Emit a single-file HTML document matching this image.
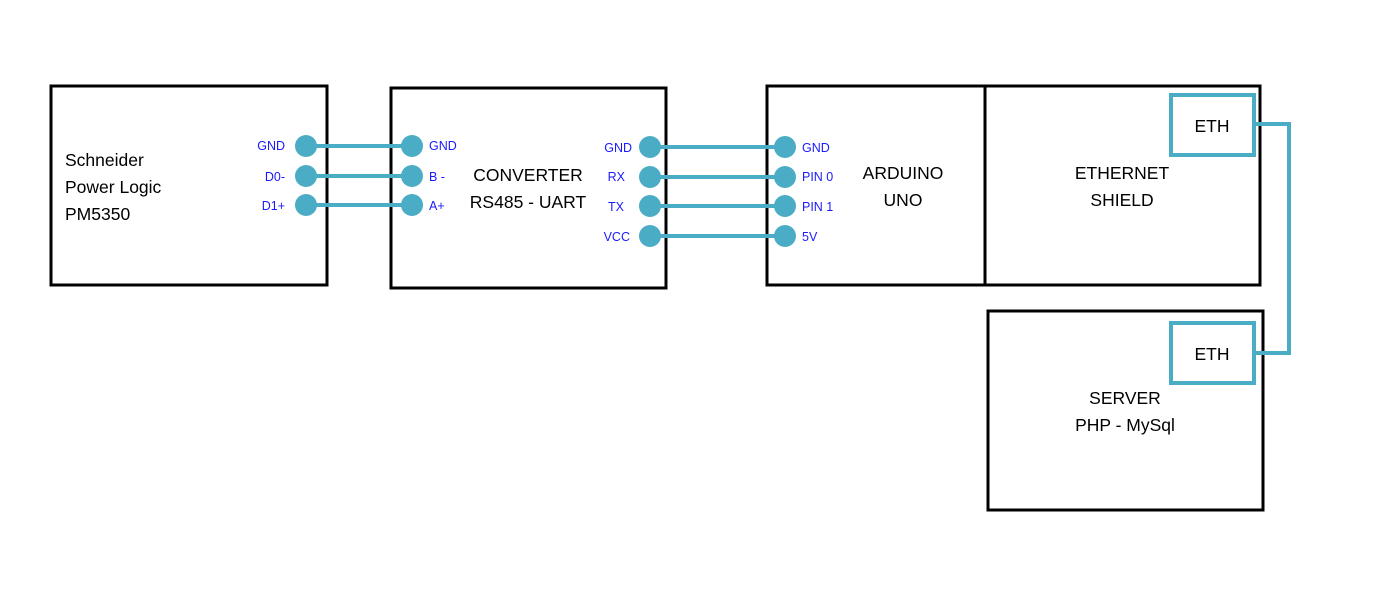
<!DOCTYPE html>
<html><head><meta charset="utf-8"><style>body{margin:0;background:#fff}svg{display:block}</style></head>
<body>
<svg width="1393" height="602" viewBox="0 0 1393 602" xmlns="http://www.w3.org/2000/svg" font-family="Liberation Sans, sans-serif">
<g fill="none" stroke="#000" stroke-width="3">
<rect x="51" y="86" width="276" height="199"/>
<rect x="391" y="88" width="275" height="200"/>
<rect x="767" y="86" width="218" height="199"/>
<rect x="985" y="86" width="275" height="199"/>
<rect x="988" y="311" width="275" height="199"/>
</g>
<g fill="none" stroke="#4BACC6" stroke-width="4">
<rect x="1171" y="95" width="83" height="60"/>
<rect x="1171" y="323" width="83" height="60"/>
<polyline points="1254,124 1289,124 1289,353 1254,353"/>
<line x1="306" y1="146" x2="412" y2="146"/>
<line x1="306" y1="176" x2="412" y2="176"/>
<line x1="306" y1="205" x2="412" y2="205"/>
<line x1="650" y1="147" x2="785" y2="147"/>
<line x1="650" y1="177" x2="785" y2="177"/>
<line x1="650" y1="206" x2="785" y2="206"/>
<line x1="650" y1="236" x2="785" y2="236"/>
</g>
<g fill="#4BACC6">
<circle cx="306" cy="146" r="11"/><circle cx="306" cy="176" r="11"/><circle cx="306" cy="205" r="11"/>
<circle cx="412" cy="146" r="11"/><circle cx="412" cy="176" r="11"/><circle cx="412" cy="205" r="11"/>
<circle cx="650" cy="147" r="11"/><circle cx="650" cy="177" r="11"/><circle cx="650" cy="206" r="11"/><circle cx="650" cy="236" r="11"/>
<circle cx="785" cy="147" r="11"/><circle cx="785" cy="177" r="11"/><circle cx="785" cy="206" r="11"/><circle cx="785" cy="236" r="11"/>
</g>
<g fill="#1a1aff" font-size="12.5">
<text x="285" y="150" text-anchor="end">GND</text>
<text x="285" y="181" text-anchor="end">D0-</text>
<text x="285" y="210" text-anchor="end">D1+</text>
<text x="429" y="150">GND</text>
<text x="429" y="181">B -</text>
<text x="429" y="210">A+</text>
<text x="632" y="152" text-anchor="end">GND</text>
<text x="625" y="181" text-anchor="end">RX</text>
<text x="624" y="211" text-anchor="end">TX</text>
<text x="630" y="241" text-anchor="end">VCC</text>
<text x="802" y="152">GND</text>
<text x="802" y="181">PIN 0</text>
<text x="802" y="211">PIN 1</text>
<text x="802" y="241">5V</text>
</g>
<g fill="#000" font-size="17.5">
<text x="65" y="166">Schneider</text>
<text x="65" y="193">Power Logic</text>
<text x="65" y="220">PM5350</text>
<text x="528" y="181" text-anchor="middle">CONVERTER</text>
<text x="528" y="208" text-anchor="middle">RS485 - UART</text>
<text x="903" y="179" text-anchor="middle">ARDUINO</text>
<text x="903" y="206" text-anchor="middle">UNO</text>
<text x="1122" y="179" text-anchor="middle">ETHERNET</text>
<text x="1122" y="206" text-anchor="middle">SHIELD</text>
<text x="1125" y="404" text-anchor="middle">SERVER</text>
<text x="1125" y="431" text-anchor="middle">PHP - MySql</text>
<text x="1212" y="132" text-anchor="middle">ETH</text>
<text x="1212" y="360" text-anchor="middle">ETH</text>
</g>
</svg>
</body></html>
